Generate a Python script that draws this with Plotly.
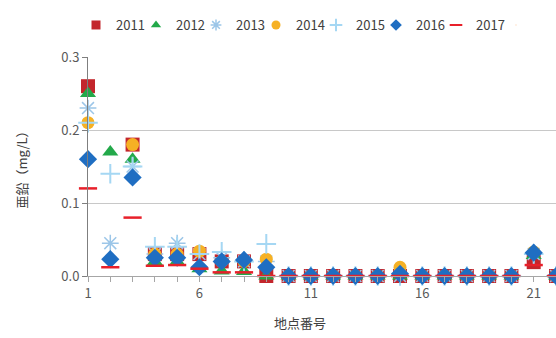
import plotly.graph_objects as go

# Survey sites 1-22
sites = list(range(1, 23))

# Zinc concentration (mg/L) by survey year
zn_2011 = [0.26, None, 0.18, 0.03, 0.03, 0.03, 0.02, 0.02, 0.0, 0.0, 0.0, 0.0, 0.0, 0.0, 0.0, 0.0, 0.0, 0.0, 0.0, 0.0, 0.019, 0.0]
zn_2012 = [0.25, 0.17, 0.16, 0.02, 0.02, 0.01, 0.007, 0.006, 0.0, 0.0, 0.0, 0.0, 0.0, 0.0, 0.0, 0.0, 0.0, 0.0, 0.0, 0.0, 0.028, 0.0]
zn_2013 = [0.23, 0.045, 0.15, 0.03, 0.045, 0.03, 0.025, 0.02, 0.02, 0.0, 0.0, 0.0, 0.0, 0.0, 0.0, 0.0, 0.0, 0.0, 0.0, 0.0, 0.03, 0.0]
zn_2014 = [0.21, None, 0.18, 0.03, 0.03, 0.034, 0.02, 0.02, 0.023, 0.0, 0.0, 0.0, 0.0, 0.0, 0.012, 0.0, 0.0, 0.0, 0.0, 0.0, 0.033, 0.0]
zn_2015 = [0.21, 0.14, 0.15, 0.04, 0.04, 0.03, 0.033, 0.02, 0.044, 0.0, 0.0, 0.0, 0.0, 0.0, 0.0, 0.0, 0.0, 0.0, 0.0, 0.0, 0.03, 0.0]
zn_2016 = [0.16, 0.023, 0.135, 0.025, 0.025, 0.012, 0.02, 0.022, 0.012, 0.0, 0.0, 0.0, 0.0, 0.0, 0.003, 0.0, 0.0, 0.0, 0.0, 0.0, 0.032, 0.0]
zn_2017 = [0.12, 0.012, 0.08, 0.014, 0.015, 0.01, 0.005, 0.005, 0.0, 0.0, 0.0, 0.0, 0.0, 0.0, 0.0, 0.0, 0.0, 0.0, 0.0, 0.0, 0.015, 0.0]

# name, values, symbol, colour, marker size, outline width (open symbols)
series = [
    ("2011", zn_2011, "square", "#c3262c", 14, 0),
    ("2012", zn_2012, "triangle-up", "#23a94a", 14, 0),
    ("2013", zn_2013, "asterisk-open", "#9cc6e8", 14, 1.5),
    ("2014", zn_2014, "circle", "#f6b124", 13, 0),
    ("2015", zn_2015, "cross-thin-open", "#a5d7f3", 14, 2),
    ("2016", zn_2016, "diamond", "#1f6ec2", 14, 0),
    ("2017", zn_2017, "line-ew-open", "#e8202a", 13, 2.5),
]

font_family = "Noto Sans CJK JP"
text_color = "#595959"

fig = go.Figure()
for name, vals, sym, col, size, lw in series:
    marker = dict(symbol=sym, size=size, color=col)
    if lw:
        marker["line"] = dict(color=col, width=lw)
    fig.add_trace(go.Scatter(
        x=sites, y=vals, name=name, mode="markers",
        marker=marker, cliponaxis=False, showlegend=False,
    ))

# Compact legend keys with smaller symbols
for name, vals, sym, col, size, lw in series:
    marker = dict(symbol=sym, size=9, color=col)
    if lw:
        marker["line"] = dict(color=col, width=min(lw, 2))
    fig.add_trace(go.Scatter(
        x=[None], y=[None], name=name, mode="markers",
        marker=marker, showlegend=True, hoverinfo="skip",
    ))

# Blank trailing legend slot so the last label is not clipped by the legend box
fig.add_trace(go.Scatter(
    x=[None], y=[None], name=" ", mode="markers",
    marker=dict(size=1, opacity=0), showlegend=True, hoverinfo="skip",
))

fig.update_layout(
    width=556, height=338,
    margin=dict(l=88, r=0, t=57, b=62),
    paper_bgcolor="white", plot_bgcolor="white",
    font=dict(family=font_family, size=13, color=text_color),
    showlegend=True,
    legend=dict(
        orientation="h", x=-0.019, xanchor="left", y=1.146, yanchor="middle",
        font=dict(size=13, color="#404040"), entrywidth=15, itemwidth=30,
        bgcolor="rgba(0,0,0,0)",
    ),
    xaxis=dict(
        range=[1, 22], tickmode="array", tickvals=[1, 6, 11, 16, 21],
        showgrid=False, zeroline=False,
        showline=True, linecolor="#a6a6a6", linewidth=1,
        ticks="outside", ticklen=5, tickcolor="#a6a6a6",
        minor=dict(dtick=1, tick0=1, ticks="outside", ticklen=5, tickcolor="#a6a6a6", showgrid=False),
        tickfont=dict(size=13, color=text_color),
    ),
    yaxis=dict(
        range=[0, 0.3], tickvals=[0, 0.1, 0.2, 0.3], tickformat=".1f",
        showgrid=True, gridcolor="#c8c8c8", gridwidth=1,
        zeroline=False, showline=True, linecolor="#7f7f7f", linewidth=1,
        ticks="outside", ticklen=5, tickcolor="#7f7f7f",
        tickfont=dict(size=13, color=text_color),
        title=dict(text="亜鉛（mg/L）", font=dict(size=13, color="#404040"), standoff=30),
    ),
    annotations=[dict(
        text="地点番号", xref="paper", yref="paper",
        x=(300 - 88) / 468, y=-(322 - 276) / 219, xanchor="center", yanchor="middle",
        showarrow=False, font=dict(size=13, color="#404040"),
    )],
)

fig.write_html("out.html")
